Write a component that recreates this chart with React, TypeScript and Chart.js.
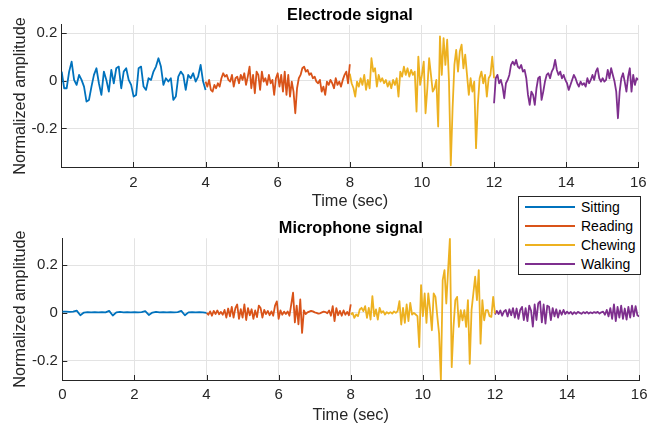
import React, { useEffect, useRef } from "react";
import { Chart, registerables } from "chart.js";

Chart.register(...registerables);

const FONT = "'Liberation Sans', Arial, Helvetica, sans-serif";
const TEXT = "#262626";
const AXIS = "#262626";
const GRID = "#e3e3e3";

const SEGMENT_NAMES = ["Sitting", "Reading", "Chewing", "Walking"];
const SEGMENT_COLORS = ["#0072BD", "#D95319", "#EDB120", "#7E2F8E"];

// time span (sec) of each activity segment
const ELECTRODE_SPANS = [[0.01, 4], [4, 8], [8, 12], [12, 16]];
const MICROPHONE_SPANS = [[0, 4], [4, 8], [8, 12], [12, 16]];

const TOP_X_TICKS = [2, 4, 6, 8, 10, 12, 14, 16];
const BOTTOM_X_TICKS = [0, 2, 4, 6, 8, 10, 12, 14, 16];
const Y_TICKS = [-0.2, 0, 0.2];

const ELECTRODE_RANGE = [-0.362, 0.235];
const MICROPHONE_RANGE = [-0.281, 0.312];

// ---- Electrode signal (normalized amplitude, evenly sampled within each segment)
const electrodeSitting = [
  0.039, -0.031, -0.031, 0.039, 0.081, 0.004, -0.017, 0.025, 0.004, -0.024,
  -0.087, -0.08, -0.024, 0.025, 0.053, -0.01, -0.059, 0.039, 0.004, -0.045,
  0.046, -0.01, 0.053, 0.06, -0.031, 0.039, 0.053, 0.004, -0.017, -0.066,
  -0.059, 0.053, 0.06, -0.024, -0.038, 0.011, 0.004, 0.039, 0.06, 0.095,
  0.06, -0.017, 0.011, -0.003, 0.011, -0.08, -0.066, 0.018, 0.039, 0.025,
  -0.038, 0.025, 0.011, 0.032, -0.003, 0.018, 0.067, -0.003, -0.038,
];
const electrodeReading = [
  -0.003, -0.024, 0.004, -0.038, -0.045, -0.017, -0.031, -0.01, -0.024, 0.011,
  0.032, 0.018, 0.025, 0.004, -0.003, 0.025, -0.024, 0.011, 0.018, -0.01,
  0.025, 0.004, 0.032, -0.017, 0.018, 0.06, -0.031, 0.025, -0.052, 0.039,
  0.025, -0.038, 0.039, -0.003, 0.011, -0.017, 0.025, -0.01, 0.004, -0.059,
  0.011, 0.032, -0.024, 0.025, -0.045, 0.039, -0.059, 0.025, -0.066, -0.003,
  -0.045, -0.136, -0.031, 0.011, 0.025, 0.053, 0.06, 0.039, 0.046, 0.025,
  0.032, 0.011, 0.018, -0.003, -0.01, 0.004, -0.045, -0.024, -0.059, -0.003,
  -0.017, 0.004, -0.01, -0.031, 0.011, -0.017, -0.003, -0.024, 0.004, 0.025,
  0.039, -0.01, 0.07,
];
const electrodeChewing = [
  0.03, -0.01, -0.03, -0.066, -0.003, -0.024, 0.011, -0.017, 0.025, -0.038,
  0.004, -0.031, 0.095, 0.039, 0.053, -0.024, 0.025, -0.003, 0.011, -0.01,
  0.004, -0.024, -0.003, -0.031, 0.004, -0.017, 0.011, -0.066, 0.039, 0.018,
  0.06, 0.025, 0.053, 0.018, 0.046, 0.025, 0.039, -0.129, 0.102, -0.017,
  0.025, 0.081, -0.136, -0.031, 0.095, 0.025, -0.045, -0.031, 0.004, -0.192,
  0.187, 0.025, 0.18, 0.067, 0.173, -0.003, -0.355, -0.115, 0.067, 0.13,
  0.039, 0.124, 0.152, 0.053, 0.11, 0.025, -0.059, 0.011, -0.045, -0.003,
  -0.283, -0.101, 0.011, 0.039, -0.01, 0.025, -0.066, 0.011, 0.025, 0.102,
  0.011,
];
const electrodeWalking = [
  -0.094, 0.011, 0.025, -0.01, 0.004, -0.024, -0.073, -0.01, 0.004, 0.025,
  0.067, 0.081, 0.067, 0.088, 0.06, 0.053, 0.067, 0.039, 0.046, 0.011,
  -0.059, -0.101, -0.045, -0.059, -0.101, -0.031, 0.011, 0.018, -0.08, -0.045,
  -0.003, 0.025, 0.032, 0.011, 0.039, 0.053, 0.088, 0.046, 0.025, 0.039,
  0.011, 0.025, 0.004, -0.01, -0.038, -0.017, 0.004, 0.025, 0.011, -0.01,
  -0.024, -0.003, -0.017, -0.01, -0.024, 0.011, -0.01, 0.004, 0.025, 0.004,
  0.039, 0.053, 0.011, -0.003, 0.011, -0.003, 0.004, 0.046, 0.011, 0.053,
  0.025, -0.003, -0.045, -0.157, -0.045, 0.011, 0.032, -0.003, -0.045, 0.018,
  0.053, -0.045, 0.025, -0.017, 0.011, 0.004,
];

// ---- Microphone signal
const microphoneSitting = [
  0.005, 0.005, 0.004, 0.005, 0.009, -0.01, 0.001, 0.003, 0.002, 0.003,
  0.002, 0.003, 0.002, 0.008, -0.011, 0.002, 0.004, 0.002, 0.003, 0.002,
  0.003, 0.002, 0.003, 0.007, -0.009, 0.001, 0.004, 0.002, 0.003, 0.002,
  0.003, 0.002, 0.003, 0.008, -0.01, 0.002, 0.003, 0.002, 0.003, 0.002,
  0.0,
];
const microphoneReading = [
  0.0, -0.008, 0.006, -0.012, 0.008, -0.005, 0.01, -0.006, 0.004, -0.008,
  0.012, -0.02, 0.018, -0.015, 0.025, -0.02, 0.02, 0.035, -0.025, 0.015,
  -0.02, 0.035, -0.03, 0.02, -0.01, 0.015, -0.025, 0.01, -0.018, 0.03,
  0.02, -0.02, 0.012, -0.005, 0.008, -0.01, 0.006, -0.012, 0.03, 0.048,
  -0.025, 0.01, -0.008, 0.005, -0.005, 0.006, -0.012, 0.035, 0.084, -0.04,
  0.03, -0.048, 0.056, -0.084, 0.01, -0.005, 0.002, 0.005, 0.008, 0.006,
  0.002, 0.0, -0.003, -0.002, 0.002, 0.005, 0.003, -0.002, 0.01, -0.012,
  0.028, -0.035, 0.02, -0.01, 0.008, -0.012, 0.01, -0.008, 0.004, -0.01,
  0.035,
];
const microphoneChewing = [
  -0.007, 0.0, -0.021, -0.007, -0.014, 0.014, 0.021, 0.007, 0.028, -0.021,
  0.021, -0.028, 0.07, -0.014, 0.014, -0.028, 0.021, 0.0, 0.007, -0.007,
  0.003, -0.003, 0.003, -0.003, 0.006, 0.0, 0.007, 0.049, -0.049, 0.021,
  -0.042, 0.035, -0.035, 0.042, -0.007, 0.0, -0.007, -0.014, -0.143, 0.116,
  -0.014, 0.081, -0.042, 0.081, 0.014, -0.073, 0.081, 0.067, -0.014, -0.087,
  -0.281, 0.137, 0.179, 0.039, 0.179, 0.312, -0.227, -0.059, 0.053, 0.067,
  -0.059, 0.011, -0.031, 0.011, -0.059, 0.053, -0.213, 0.011, 0.081, 0.151,
  0.053, 0.179, -0.129, 0.053, -0.031, 0.011, 0.011, -0.014, -0.017, 0.067,
  -0.003,
];
const microphoneWalking = [
  -0.007, 0.008, -0.005, 0.01, -0.012, 0.006, 0.012, -0.015, 0.015, -0.01,
  0.02, -0.02, 0.018, -0.025, 0.012, 0.025, -0.03, 0.02, -0.035, 0.03,
  0.01, -0.058, 0.035, -0.03, 0.04, 0.048, -0.04, 0.035, -0.045, 0.03,
  0.025, -0.03, 0.02, -0.015, 0.015, -0.02, 0.01, -0.008, 0.012, -0.005,
  0.005, -0.003, 0.004, -0.006, 0.003, -0.004, 0.004, 0.0, -0.004, 0.003,
  -0.002, 0.004, -0.003, 0.002, -0.002, 0.003, 0.0, 0.004, -0.003, 0.002,
  0.005, -0.008, 0.012, -0.015, 0.02, -0.025, 0.035, -0.035, 0.025, -0.02,
  0.03, -0.025, 0.018, -0.028, 0.025, -0.02, 0.03, -0.015, 0.028, -0.01,
  -0.015,
];

const ELECTRODE_SERIES = [electrodeSitting, electrodeReading, electrodeChewing, electrodeWalking];
const MICROPHONE_SERIES = [microphoneSitting, microphoneReading, microphoneChewing, microphoneWalking];

function toPoints(values: number[], span: number[]) {
  const [t0, t1] = span;
  const step = (t1 - t0) / (values.length - 1);
  return values.map((v, i) => ({ x: t0 + i * step, y: v }));
}

const inwardTicks = {
  id: "inwardTicks",
  beforeDatasetsDraw(chart: any) {
    const { ctx, chartArea, scales } = chart;
    ctx.save();
    ctx.strokeStyle = AXIS;
    ctx.lineWidth = 1;
    scales.x.ticks.forEach((t: any) => {
      const px = Math.round(scales.x.getPixelForValue(t.value)) + 0.5;
      ctx.beginPath();
      ctx.moveTo(px, chartArea.bottom);
      ctx.lineTo(px, chartArea.bottom - 5);
      ctx.stroke();
    });
    scales.y.ticks.forEach((t: any) => {
      const py = Math.round(scales.y.getPixelForValue(t.value)) + 0.5;
      ctx.beginPath();
      ctx.moveTo(chartArea.left, py);
      ctx.lineTo(chartArea.left + 5, py);
      ctx.stroke();
    });
    ctx.restore();
  },
};

interface PanelOpts {
  series: number[][];
  spans: number[][];
  xMin: number;
  xTicks: number[];
  yRange: number[];
  title: string;
  titlePad: { top: number; bottom: number };
  layoutPad: { left: number; right: number; top: number; bottom: number };
  yWidth: number;
  xHeight: number;
  xTickPad: number;
  xTitlePadBottom: number;
}

function makeConfig(o: PanelOpts): any {
  return {
    type: "line",
    data: {
      datasets: o.series.map((vals, i) => ({
        label: SEGMENT_NAMES[i],
        data: toPoints(vals, o.spans[i]),
        borderColor: SEGMENT_COLORS[i],
        backgroundColor: SEGMENT_COLORS[i],
        borderWidth: 1.8,
        borderJoinStyle: "round",
        pointRadius: 0,
        tension: 0,
        fill: false,
      })),
    },
    options: {
      responsive: false,
      animation: false,
      events: [],
      layout: { padding: o.layoutPad },
      plugins: {
        legend: { display: false },
        tooltip: { enabled: false },
        title: {
          display: true,
          text: o.title,
          color: "#000",
          fullSize: false,
          font: { family: FONT, size: 16.3, weight: "bold", lineHeight: 1.2 },
          padding: o.titlePad,
        },
      },
      scales: {
        x: {
          type: "linear",
          min: o.xMin,
          max: 16,
          afterBuildTicks: (s: any) => {
            s.ticks = o.xTicks.map((v) => ({ value: v }));
          },
          afterFit: (s: any) => {
            s.height = o.xHeight;
          },
          grid: { color: GRID, drawTicks: false, lineWidth: 1 },
          border: { display: true, color: AXIS, width: 1 },
          ticks: {
            padding: o.xTickPad,
            color: TEXT,
            font: { family: FONT, size: 15, lineHeight: 1.2 },
            maxRotation: 0,
            autoSkip: false,
            callback: (v: any) => String(v),
          },
          title: {
            display: true,
            text: "Time (sec)",
            color: TEXT,
            font: { family: FONT, size: 16.3, lineHeight: 1.2 },
            padding: { top: 0, bottom: o.xTitlePadBottom },
          },
        },
        y: {
          type: "linear",
          min: o.yRange[0],
          max: o.yRange[1],
          afterBuildTicks: (s: any) => {
            s.ticks = Y_TICKS.map((v) => ({ value: v }));
          },
          afterFit: (s: any) => {
            s.width = o.yWidth;
          },
          grid: { color: GRID, drawTicks: false, lineWidth: 1 },
          border: { display: true, color: AXIS, width: 1 },
          ticks: {
            padding: 4.4,
            color: TEXT,
            font: { family: FONT, size: 15, lineHeight: 1.2 },
            autoSkip: false,
            callback: (v: any) => String(v),
          },
          title: {
            display: true,
            text: "Normalized amplitude",
            color: TEXT,
            font: { family: FONT, size: 16.3, lineHeight: 1.2 },
            padding: { top: 11.2, bottom: 0 },
          },
        },
      },
    },
    plugins: [inwardTicks],
  };
}

export default function App() {
  const topRef = useRef<HTMLCanvasElement>(null);
  const bottomRef = useRef<HTMLCanvasElement>(null);

  useEffect(() => {
    Chart.defaults.font.family = FONT;
    const top = new Chart(
      topRef.current as HTMLCanvasElement,
      makeConfig({
        series: ELECTRODE_SERIES,
        spans: ELECTRODE_SPANS,
        xMin: 0.01,
        xTicks: TOP_X_TICKS,
        yRange: ELECTRODE_RANGE,
        title: "Electrode signal",
        titlePad: { top: 6.2, bottom: -0.8 },
        layoutPad: { left: 0, right: 23.7, top: 0, bottom: 216 },
        yWidth: 61.7,
        xHeight: 45,
        xTickPad: 6.5,
        xTitlePadBottom: 1.2,
      })
    );
    const bottom = new Chart(
      bottomRef.current as HTMLCanvasElement,
      makeConfig({
        series: MICROPHONE_SERIES,
        spans: MICROPHONE_SPANS,
        xMin: 0,
        xTicks: BOTTOM_X_TICKS,
        yRange: MICROPHONE_RANGE,
        title: "Microphone signal",
        titlePad: { top: 8.7, bottom: 0 },
        layoutPad: { left: 0, right: 22.8, top: 210, bottom: 0 },
        yWidth: 62.3,
        xHeight: 48,
        xTickPad: 6,
        xTitlePadBottom: 3.2,
      })
    );
    return () => {
      top.destroy();
      bottom.destroy();
    };
  }, []);

  return (
    <div
      style={{
        position: "absolute",
        left: 0,
        top: 0,
        width: 662,
        height: 428,
        background: "#fff",
        overflow: "hidden",
      }}
    >
      <canvas ref={topRef} width={662} height={428} style={{ position: "absolute", left: 0, top: 0 }} />
      <canvas ref={bottomRef} width={662} height={428} style={{ position: "absolute", left: 0, top: 0 }} />
      <div
        style={{
          position: "absolute",
          left: 518,
          top: 196,
          width: 123,
          height: 79,
          boxSizing: "border-box",
          border: "1px solid #262626",
          background: "#fff",
          fontFamily: FONT,
          fontSize: 14,
          color: "#000",
          zIndex: 2,
        }}
      >
        {SEGMENT_NAMES.map((name, i) => (
          <div
            key={name}
            style={{
              position: "absolute",
              left: 6,
              top: 0.8 + i * 19,
              height: 19,
              display: "flex",
              alignItems: "center",
              whiteSpace: "nowrap",
            }}
          >
            <span
              style={{
                display: "inline-block",
                width: 50,
                height: 0,
                borderTop: `2px solid ${SEGMENT_COLORS[i]}`,
              }}
            />
            <span style={{ marginLeft: 6, lineHeight: "19px" }}>{name}</span>
          </div>
        ))}
      </div>
    </div>
  );
}
